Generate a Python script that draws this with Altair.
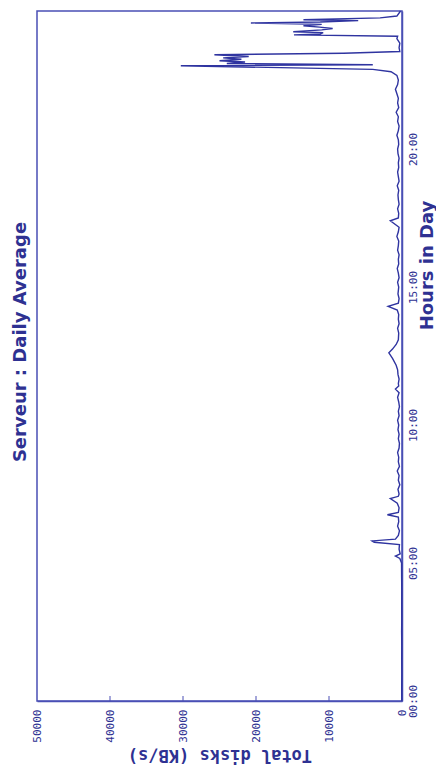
import altair as alt
import pandas as pd

# ---- data (time in minutes of day, disk throughput in KB/s)
minute = [
    0, 30, 60, 90, 120, 150, 180, 210, 240, 270, 300,
    310, 315, 320, 330, 340, 345, 348, 352, 360, 370, 380, 390, 400, 405, 410,
    420, 430, 440, 445, 450, 460, 470, 480, 490, 500, 510, 520, 530, 540, 550,
    560, 570, 580, 590, 600, 610, 620, 630, 640, 650, 660, 670, 678, 685, 690,
    700, 710, 720, 730, 745, 757, 765, 775, 785, 800, 810, 820, 830, 840, 850,
    858, 865, 875, 885, 900, 910, 920, 930, 940, 950, 960, 970, 980, 990, 1000,
    1010, 1020, 1030, 1044, 1050, 1060, 1070, 1080, 1090, 1100, 1110, 1120, 1130,
    1140, 1150, 1160, 1170, 1180, 1190, 1200, 1210, 1220, 1230, 1240, 1250, 1260,
    1270, 1280, 1290, 1300, 1310, 1320, 1330, 1340, 1350, 1360, 1368, 1373,
    1381, 1383, 1386, 1389, 1392, 1395, 1398, 1401, 1405, 1408, 1412,
    1420, 1430, 1440, 1445, 1448, 1450, 1453, 1455, 1459, 1462, 1465, 1468,
    1471, 1474, 1476, 1479, 1481, 1485, 1489, 1500,
]
kbps = [
    30, 40, 20, 40, 30, 50, 30, 40, 30, 50, 60,
    300, 900, 250, 400, 350, 3800, 4100, 900, 500, 350, 600, 450, 500, 2000, 500,
    400, 650, 1600, 500, 400, 550, 300, 500, 400, 650, 350, 500, 450, 600, 400,
    350, 500, 400, 550, 450, 600, 400, 500, 350, 450, 600, 400, 900, 450, 500,
    400, 550, 600, 800, 1300, 1800, 1300, 800, 500, 450, 600, 400, 500, 450, 650,
    1900, 500, 400, 550, 450, 600, 400, 500, 650, 450, 500, 400, 600, 500, 450,
    700, 500, 400, 1600, 500, 450, 600, 400, 500, 550, 450, 650, 400,
    500, 600, 450, 500, 400, 550, 600, 450, 500, 700, 500, 400, 600,
    500, 800, 450, 600, 500, 700, 900, 600, 500, 700, 1500, 4000,
    30300, 4000, 24000, 21500, 25000, 22000, 24500, 21000, 25700, 8000, 300,
    400, 300, 700, 600, 14800, 11200, 10800, 14900, 11000, 9500, 11300, 13500,
    11000, 20700, 11200, 6000, 13500, 3000, 700, 200,
]
hour_ticks = [0, 5, 10, 15, 20]
hour_labels = ["00:00", "05:00", "10:00", "15:00", "20:00"]
kbps_ticks = [0, 10000, 20000, 30000, 40000, 50000]

df = pd.DataFrame({"hour": [m / 60 for m in minute], "kbps": kbps})
tick_df = pd.DataFrame({"kbps": kbps_ticks[1:-1]})

LINE = "#2f34a0"
AXIS = "#4a4fb5"
TEXT = "#2e3192"
W, H = 365, 690

hour_expr = " : ".join(
    f"datum.value == {v} ? '{l}'" for v, l in zip(hour_ticks, hour_labels)
) + " : ''"

x_enc = alt.X(
    "kbps:Q",
    scale=alt.Scale(domain=[0, 50000], reverse=True, nice=False),
    axis=alt.Axis(
        values=kbps_ticks, format="d", title="Total disks (KB/s)",
        ticks=False, labelAngle=270, labelAlign="right",
        labelBaseline="middle", labelPadding=8, labelFlush=False,
        labelOverlap=False, titleAngle=180, titleAlign="center",
        titleBaseline="middle", titleY=53,
        titleFont="DejaVu Sans Mono", titleFontSize=17,
    ),
)

line = alt.Chart(df).mark_line(color=LINE, strokeWidth=1.4).encode(
    x=x_enc,
    y=alt.Y(
        "hour:Q",
        scale=alt.Scale(domain=[0, 25], nice=False),
        axis=alt.Axis(
            orient="right", values=hour_ticks, labelExpr=hour_expr,
            title="Hours in Day", ticks=False, labelAngle=270,
            labelAlign="center", labelBaseline="middle", labelPadding=11,
            labelFlush=False, labelOverlap=False, titleAngle=270,
            titleAlign="center", titleBaseline="middle", titleX=25,
            titleY=254, titleFont="DejaVu Sans", titleFontSize=18,
        ),
    ),
    order="hour:Q",
)

inward_ticks = alt.Chart(tick_df).mark_rule(color=AXIS, strokeWidth=1).encode(
    x=x_enc,
    y=alt.value(H),
    y2=alt.value(H - 5),
)

chart = (
    alt.layer(line, inward_ticks)
    .properties(
        width=W,
        height=H,
        padding={"left": 3, "top": 0, "right": 0, "bottom": 5},
        title=alt.TitleParams(
            "Serveur : Daily Average", orient="left", anchor="middle",
            font="DejaVu Sans", fontSize=18, fontWeight="bold", color=TEXT,
            offset=1, dx=14,
        ),
        background="white",
    )
    .configure_view(stroke=AXIS, strokeWidth=1.5)
    .configure_axis(
        domainColor=AXIS, domainWidth=1.5, grid=False,
        labelColor=TEXT, labelFont="DejaVu Sans Mono", labelFontSize=11,
        titleColor=TEXT, titleFontWeight="bold",
    )
)

chart.save("out.html", embed_options={"renderer": "svg", "actions": False})
